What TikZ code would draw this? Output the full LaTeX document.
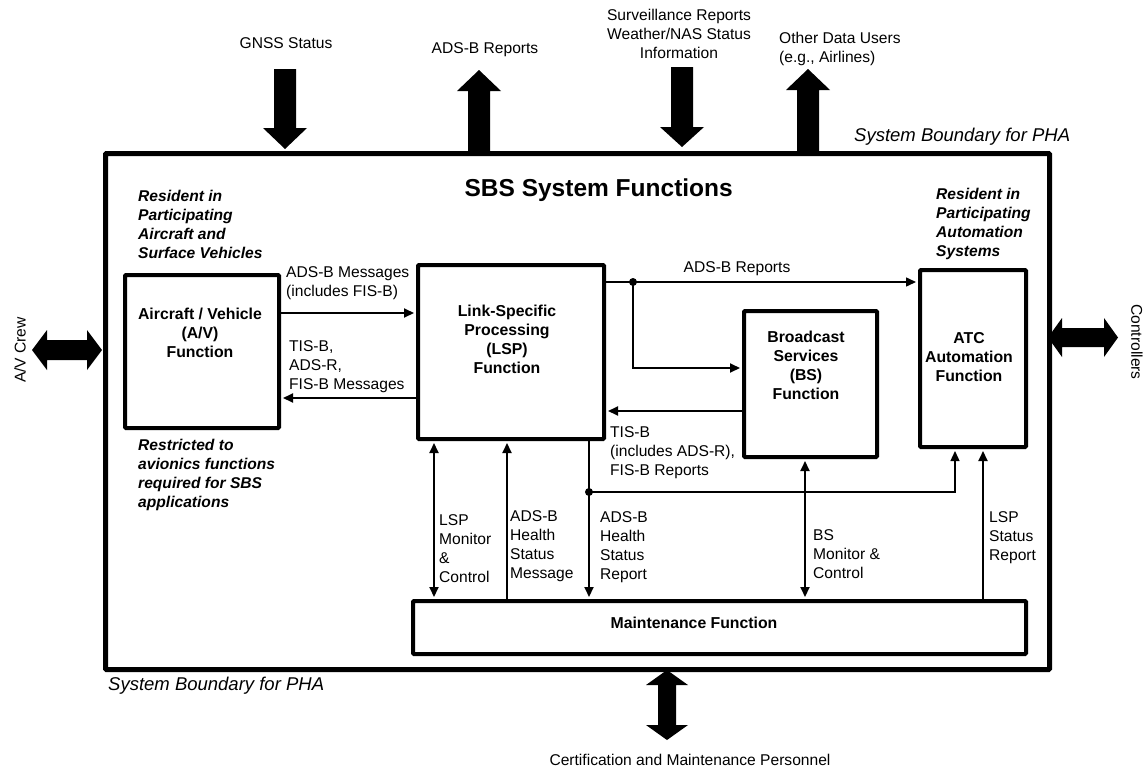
\documentclass[tikz,border=0pt]{standalone}
\usepackage{fontspec}
\setmainfont{Liberation Sans}
\usetikzlibrary{arrows.meta}
\begin{document}
\begin{tikzpicture}[x=1pt,y=-1pt,
  box/.style={draw, line width=4pt, rounded corners=1pt, inner sep=0pt, anchor=north west},
  conn/.style={line width=2pt, -{Triangle[length=10pt,width=9pt]}, shorten >=2pt},
  dconn/.style={line width=2pt, {Triangle[length=10pt,width=9pt]}-{Triangle[length=10pt,width=9pt]}, shorten >=2pt, shorten <=2pt},
  lbl/.style={font=\fontsize{15.6}{19}\selectfont, align=left, inner sep=0pt, anchor=north west},
  ctr/.style={font=\fontsize{15.6}{19}\selectfont, align=center, inner sep=0pt},
  btxt/.style={font=\fontsize{15.8}{19}\selectfont\bfseries, align=center, inner sep=0pt, anchor=north},
  note/.style={font=\fontsize{15.6}{19}\selectfont\bfseries\itshape, align=left, inner sep=0pt, anchor=north west},
  bnd/.style={font=\fontsize{18.5}{22}\selectfont\itshape, inner sep=0pt},
  blk/.style={fill=black},
  dot/.style={circle, fill, inner sep=0pt, minimum size=8pt}
]
\useasboundingbox (0,0) rectangle (1146,771);

% system boundary and function blocks
\node[box, line width=5pt, minimum width=944pt, minimum height=516pt] (sys) at (103,151) {};
\node[box, minimum width=154pt, minimum height=153pt] (av) at (123,273) {};
\node[box, minimum width=186pt, minimum height=174pt] (lsp) at (416,263) {};
\node[box, minimum width=133pt, minimum height=146pt] (bs) at (742,309) {};
\node[box, minimum width=106pt, minimum height=177pt] (atc) at (918,268) {};
\node[box, minimum width=613pt, minimum height=53pt] (mnt) at (411,599) {};

% block texts
\node[btxt] (avt) at (200,308) {Aircraft / Vehicle\\(A/V)\\Function};
\node[btxt] (lspt) at (507,305) {Link-Specific\\Processing\\(LSP)\\Function};
\node[btxt] (bst) at (806,331) {Broadcast\\Services\\(BS)\\Function};
\node[btxt] (atct) at (969,332) {ATC\\Automation\\Function};
\node[font=\fontsize{15.8}{19}\selectfont\bfseries, inner sep=0pt, anchor=base] (mntt) at (694,628.5) {Maintenance Function};

\node[font=\fontsize{24.5}{28}\selectfont\bfseries, inner sep=0pt, anchor=base east] (title) at (733,196) {SBS System Functions};

% notes on the boundary
\node[note] (resav) at (138,190) {Resident in\\Participating\\Aircraft and\\Surface Vehicles};
\node[note] (restr) at (138,439) {Restricted to\\avionics functions\\required for SBS\\applications};
\node[note] (resatc) at (936,188) {Resident in\\Participating\\Automation\\Systems};
\node[bnd, anchor=base west] (bndtop) at (854,141.5) {System Boundary for PHA};
\node[bnd, anchor=base west] (bndbot) at (108,690.5) {System Boundary for PHA};

% internal connectors
\coordinate (j1) at (633,282);
\coordinate (j2) at (589,492);
\draw[conn] (av.east |- 0,313) -- (lsp.west |- 0,313);
\draw[conn] (lsp.west |- 0,398) -- (av.east |- 0,398);
\draw[conn, line width=1.5pt] (lsp.east |- j1) -- (atc.west |- j1);
\draw[conn] (j1) |- (bs.west |- 0,368);
\draw[conn] (bs.west |- 0,411) -- (lsp.east |- 0,411);
\draw[conn] (j2 |- lsp.south) -- (j2 |- mnt.north);
\draw[conn, line width=1.3pt] (j2) -| (955,0 |- atc.south);
\node[dot] (d1) at (j1) {};
\node[dot] (d2) at (j2) {};
\draw[dconn] (434,0 |- lsp.south) -- (434,0 |- mnt.north);
\draw[conn] (507,0 |- mnt.north) -- (507,0 |- lsp.south);
\draw[dconn] (805,0 |- bs.south) -- (805,0 |- mnt.north);
\draw[conn] (983,0 |- mnt.north) -- (983,0 |- atc.south);

% connector labels
\node[lbl] (l1) at (286,266) {ADS-B Messages\\(includes FIS-B)};
\node[lbl] (l2) at (289,340) {TIS-B,\\ADS-R,\\FIS-B Messages};
\node[ctr, anchor=base] (l3) at (737,272.5) {ADS-B Reports};
\node[lbl] (l4) at (610,426) {TIS-B\\(includes ADS-R),\\FIS-B Reports};
\node[lbl] (l5) at (439,514) {LSP\\Monitor\\\&\\Control};
\node[lbl] (l6) at (510,510) {ADS-B\\Health\\Status\\Message};
\node[lbl] (l7) at (600,511) {ADS-B\\Health\\Status\\Report};
\node[lbl] (l8) at (813,529) {BS\\Monitor \&\\Control};
\node[lbl] (l9) at (989,511) {LSP\\Status\\Report};

% external interfaces
\fill[blk] (274,69) -- (296,69) -- (296,128) -- (307,128) -- (285,149) -- (263,128) -- (274,128) -- cycle;
\fill[blk] (468,151) -- (468,91) -- (457,91) -- (479,70) -- (501,91) -- (490,91) -- (490,151) -- cycle;
\fill[blk] (671,67) -- (693,67) -- (693,127) -- (704,127) -- (682,147) -- (660,127) -- (671,127) -- cycle;
\fill[blk] (797,151) -- (797,90) -- (786,90) -- (808,69) -- (830,90) -- (819,90) -- (819,151) -- cycle;
\fill[blk] (32,350) -- (47,330) -- (47,340) -- (87,340) -- (87,330) -- (102,350) -- (87,370) -- (87,360) -- (47,360) -- (47,370) -- cycle;
\fill[blk] (1048,337.5) -- (1062,318) -- (1062,328) -- (1104,328) -- (1104,318) -- (1118,337.5) -- (1104,357) -- (1104,347) -- (1062,347) -- (1062,357) -- cycle;
\fill[blk] (667,670) -- (688,685) -- (676,685) -- (676,725) -- (688,725) -- (667,740) -- (646,725) -- (658,725) -- (658,685) -- (646,685) -- cycle;

\node[ctr, anchor=base] (gnss) at (286,48.5) {GNSS Status};
\node[ctr, anchor=base] (adsbr) at (485,53.5) {ADS-B Reports};
\node[ctr, anchor=north] (surv) at (679,9) {Surveillance Reports\\Weather/NAS Status\\Information};
\node[lbl] (other) at (779,32) {Other Data Users\\(e.g., Airlines)};
\node[ctr, rotate=90] (crew) at (20,350) {A/V Crew};
\node[ctr, rotate=-90] (ctrl) at (1137,342) {Controllers};
\node[ctr, anchor=base] (cert) at (690,765.5) {Certification and Maintenance Personnel};
\end{tikzpicture}
\end{document}
